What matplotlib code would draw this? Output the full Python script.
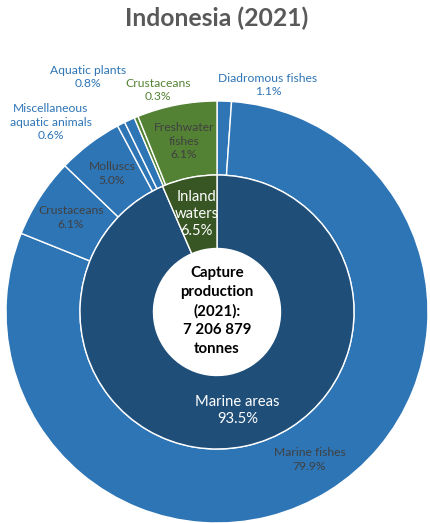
import matplotlib.pyplot as plt
import numpy as np

plt.rcParams['font.family'] = ['Lato', 'DejaVu Sans']

# ── Data ─────────────────────────────────────────────────────────────────────
inner_labels = ['Marine areas', 'Inland\nwaters']
inner_values = [93.5, 6.5]

outer_labels = ['Diadromous fishes', 'Marine fishes', 'Crustaceans', 'Molluscs',
                'Miscellaneous\naquatic animals', 'Aquatic plants',
                'Crustaceans', 'Freshwater\nfishes']
outer_values = [1.1, 79.9, 6.1, 5.0, 0.6, 0.8, 0.3, 6.1]
outer_group = ['marine'] * 6 + ['inland'] * 2

total_tonnes = '7 206 879'

# ── Colours ──────────────────────────────────────────────────────────────────
BLUE_OUT = '#2E75B6'
BLUE_IN = '#1F4E79'
GREEN_OUT = '#548235'
GREEN_IN = '#375623'
DARK_TXT = '#404040'

W, H = 430, 523
fig = plt.figure(figsize=(4.3, 5.23), dpi=100, facecolor='white')
ax = fig.add_axes([0, 0, 1, 1])

cx, cy = 217, H - 312
r_out, r_mid, r_hole = 211, 137, 63.5

out_colors = [BLUE_OUT if g == 'marine' else GREEN_OUT for g in outer_group]
in_colors = [BLUE_IN, GREEN_IN]

wedges_out, _ = ax.pie(outer_values, radius=r_out, center=(cx, cy),
                       colors=out_colors, startangle=90, counterclock=False,
                       wedgeprops=dict(width=r_out - r_mid, edgecolor='white',
                                       linewidth=1.0))
wedges_in, _ = ax.pie(inner_values, radius=r_mid, center=(cx, cy),
                      colors=in_colors, startangle=90, counterclock=False,
                      wedgeprops=dict(width=r_mid - r_hole, edgecolor='white',
                                      linewidth=1.0))
ax.set_xlim(0, W)
ax.set_ylim(0, H)
ax.set_aspect('equal')
ax.axis('off')


def mid_pos(w, r):
    a = np.deg2rad((w.theta1 + w.theta2) / 2)
    return cx + r * np.cos(a), cy + r * np.sin(a)


def pct(v):
    return f'{v:.1f}%'


# inside labels for the larger outer slices
r_lab = (r_out + r_mid) / 2
for i in [1, 2, 3, 7]:
    x, y = mid_pos(wedges_out[i], r_lab)
    ax.text(x, y, f'{outer_labels[i]}\n{pct(outer_values[i])}',
            ha='center', va='center', fontsize=8.7, color=DARK_TXT,
            linespacing=1.3)

# outside labels for the thin slices
outside = {0: (268, H - 85, BLUE_OUT),
           4: (51, H - 122, BLUE_OUT),
           5: (88, H - 77, BLUE_OUT),
           6: (158, H - 90, GREEN_OUT)}
for i, (x, y, c) in outside.items():
    ax.text(x, y, f'{outer_labels[i]}\n{pct(outer_values[i])}',
            ha='center', va='center', fontsize=8.7, color=c, linespacing=1.3)

# inner ring labels
r_in_lab = (r_mid + r_hole) / 2
for i in range(2):
    x, y = mid_pos(wedges_in[i], r_in_lab)
    ax.text(x, y, f'{inner_labels[i]}\n{pct(inner_values[i])}',
            ha='center', va='center', fontsize=10.6, color='white',
            linespacing=1.3)

# centre text
ax.text(cx, cy + 1, f'Capture\nproduction\n(2021):\n{total_tonnes}\ntonnes',
        ha='center', va='center', fontsize=10.8, fontweight='bold',
        color='black', linespacing=1.42)

# title
ax.text(W / 2 + 2, H - 18, 'Indonesia (2021)', ha='center', va='center',
        fontsize=17.8, fontweight='bold', color='#595959')

fig.savefig('out.png', dpi=100, facecolor='white')
